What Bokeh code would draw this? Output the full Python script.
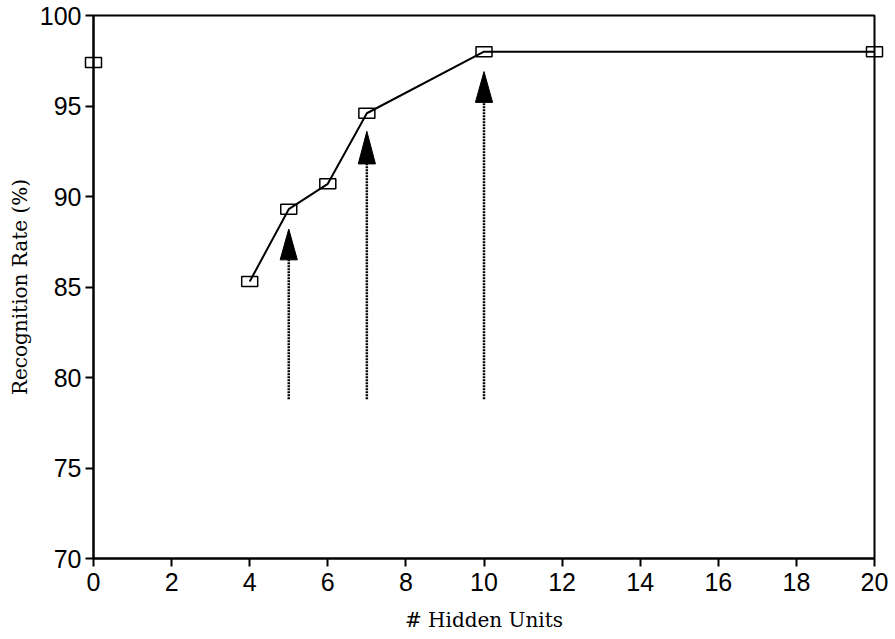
from bokeh.plotting import figure
from bokeh.models import Range1d, FixedTicker, ColumnDataSource
from bokeh.embed import file_html
from bokeh.resources import INLINE

# ---- data ----
hidden_units = [4, 5, 6, 7, 10, 20]
recognition_rate = [85.3, 89.3, 90.7, 94.6, 98.0, 98.0]
baseline_units = [0]
baseline_rate = [97.4]

arrow_x = [5, 7, 10]
arrow_tail = [78.8, 78.8, 78.8]
arrow_base = [86.5, 91.8, 95.2]
arrow_tip = [88.2, 93.6, 96.9]

x_ticks = [0, 2, 4, 6, 8, 10, 12, 14, 16, 18, 20]
y_ticks = [70, 75, 80, 85, 90, 95, 100]

HEAD_HALF = 0.22  # half width of arrow head (x units)

p = figure(width=888, height=636,
           x_range=Range1d(0, 20), y_range=Range1d(70, 100),
           output_backend="svg", toolbar_location=None,
           min_border_left=93, min_border_right=14,
           min_border_top=15, min_border_bottom=78)

p.xgrid.visible = False
p.ygrid.visible = False
p.background_fill_color = "white"
p.border_fill_color = "white"
p.outline_line_color = "black"
p.outline_line_width = 2

for ax in (p.xaxis[0], p.yaxis[0]):
    ax.axis_line_width = 2
    ax.axis_line_color = "black"
    ax.major_tick_line_width = 2
    ax.major_tick_line_color = "black"
    ax.major_tick_out = 8
    ax.major_tick_in = 0
    ax.minor_tick_line_color = None
    ax.major_label_text_font = "Liberation Sans"
    ax.major_label_text_font_size = "25px"
    ax.major_label_text_color = "black"
    ax.axis_label_text_font = "DejaVu Serif"
    ax.axis_label_text_font_size = "20px"
    ax.axis_label_text_font_style = "normal"
    ax.axis_label_text_color = "black"

p.xaxis[0].ticker = FixedTicker(ticks=x_ticks)
p.yaxis[0].ticker = FixedTicker(ticks=y_ticks)
p.xaxis[0].axis_label = "# Hidden Units"
p.yaxis[0].axis_label = "Recognition Rate (%)"
p.xaxis[0].major_label_standoff = 6
p.yaxis[0].major_label_standoff = 4
p.xaxis[0].axis_label_standoff = 14
p.yaxis[0].axis_label_standoff = 5

# dotted arrow shafts
p.segment(x0=arrow_x, y0=arrow_tail, x1=arrow_x, y1=arrow_base,
          line_color="black", line_width=2.5, line_dash="2 1")

# arrow heads
heads = ColumnDataSource(dict(
    xs=[[x - HEAD_HALF, x, x + HEAD_HALF] for x in arrow_x],
    ys=[[b, t, b] for b, t in zip(arrow_base, arrow_tip)],
))
p.patches(xs="xs", ys="ys", source=heads, fill_color="black", line_color="black", line_width=1)

# main curve
p.line(hidden_units, recognition_rate, line_color="black", line_width=2)
r1 = p.rect(hidden_units, recognition_rate, width=16, height=10,
            width_units="screen", height_units="screen",
            fill_color=None, line_color="black", line_width=1.5)
r2 = p.rect(baseline_units, baseline_rate, width=16, height=10,
            width_units="screen", height_units="screen",
            fill_color=None, line_color="black", line_width=1.5)
r1.level = "overlay"
r2.level = "overlay"

open("out.html", "w").write(file_html(p, INLINE))
